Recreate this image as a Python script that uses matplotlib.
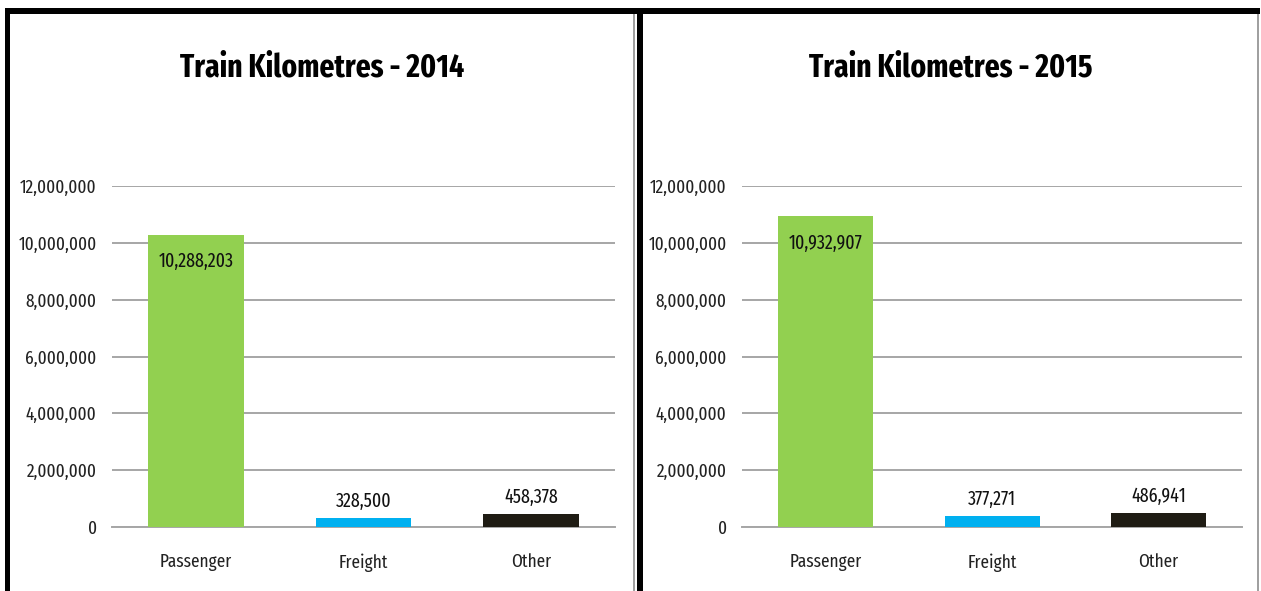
import matplotlib.pyplot as plt
from matplotlib.patches import Rectangle
from matplotlib.ticker import FuncFormatter

plt.rcParams['font.family'] = ['Fira Sans Extra Condensed', 'DejaVu Sans']

categories = ['Passenger', 'Freight', 'Other']
years = ['2014', '2015']
values_2014 = [10288203, 328500, 458378]
values_2015 = [10932907, 377271, 486941]
bar_colors = ['#92D050', '#00B0F0', '#1F1C14']

W, H = 1261, 591
fig = plt.figure(figsize=(W / 100, H / 100), dpi=100)


def px_rect(x0, y0, x1, y1, color):
    # rectangle in pixel coords (origin top-left)
    fig.add_artist(Rectangle((x0 / W, 1 - y1 / H), (x1 - x0) / W, (y1 - y0) / H,
                             transform=fig.transFigure, color=color, lw=0, zorder=5))


# frame
px_rect(5, 8, 1260, 14, 'black')
px_rect(5, 8, 10, 591, 'black')
px_rect(637, 8, 643, 591, 'black')
px_rect(633, 14, 635, 591, '#A0A0A0')
px_rect(1257, 14, 1259, 591, '#A0A0A0')

panels = [(112, 615, 322, values_2014, years[0]),
          (742, 1242, 951, values_2015, years[1])]

fmt = FuncFormatter(lambda v, p: f'{int(v):,}')

for x0, x1, tx, vals, yr in panels:
    ax = fig.add_axes([x0 / W, 1 - 527 / H, (x1 - x0) / W, (527 - 186) / H])
    xs = range(len(categories))
    ax.bar(xs, vals, width=0.57, color=bar_colors, zorder=3)
    ax.set_ylim(0, 12000000)
    ax.set_xlim(-0.5, 2.5)
    ax.set_yticks(range(0, 12000001, 2000000))
    ax.yaxis.set_major_formatter(fmt)
    ax.set_xticks(list(xs))
    ax.set_xticklabels(categories)
    ax.tick_params(length=0, labelsize=13.5, colors='#222222')
    ax.tick_params(axis='x', pad=19)
    ax.tick_params(axis='y', pad=11)
    ax.grid(axis='y', color='#A6A6A6', lw=1.4, zorder=1)
    for s in ['left', 'right', 'top']:
        ax.spines[s].set_visible(False)
    ax.spines['bottom'].set_color('#A6A6A6')
    ax.spines['bottom'].set_linewidth(1.4)
    for i, v in enumerate(vals):
        if i == 0:
            ax.annotate(f'{v:,}', (i, v), xytext=(0, -12), textcoords='offset points',
                        ha='center', va='top', fontsize=14, color='#111111', zorder=4)
        else:
            ax.annotate(f'{v:,}', (i, v), xytext=(0, 5), textcoords='offset points',
                        ha='center', va='bottom', fontsize=14, color='#111111', zorder=4)
    fig.text(tx / W, 1 - 68 / H, f'Train Kilometres - {yr}', ha='center', va='center',
             fontsize=23, fontweight='bold', color='black')

fig.savefig('out.png', dpi=100)
